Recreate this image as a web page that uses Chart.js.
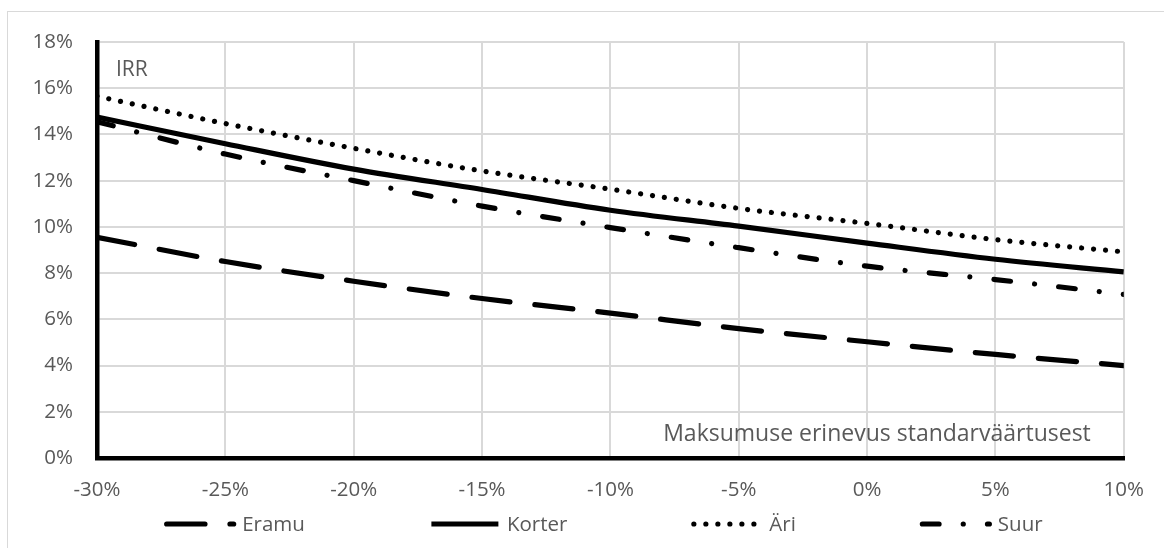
<!DOCTYPE html>
<html>
<head>
<meta charset="utf-8">
<script src="https://cdn.jsdelivr.net/npm/chart.js@4/dist/chart.umd.min.js"></script>
<style>
html,body{margin:0;padding:0;background:#fff;}
#wrap{width:1164px;height:548px;position:relative;}
</style>
</head>
<body>
<div id="wrap"><canvas id="c" width="1164" height="548"></canvas></div>
<script>
// ---- data ----
const xValues = [-30, -25, -20, -15, -10, -5, 0, 5, 10];
const eramu  = [9.55, 8.5, 7.65, 6.9, 6.27, 5.6, 5.03, 4.48, 4.0];
const korter = [14.75, 13.6, 12.5, 11.62, 10.72, 10.03, 9.3, 8.6, 8.05];
const ari    = [15.65, 14.47, 13.4, 12.42, 11.63, 10.8, 10.15, 9.45, 8.92];
const suur   = [14.55, 13.15, 12.0, 10.9, 9.97, 9.1, 8.3, 7.72, 7.08];
const seriesNames = ['Eramu', 'Korter', 'Äri', 'Suur'];
const xTickLabels = ['-30%', '-25%', '-20%', '-15%', '-10%', '-5%', '0%', '5%', '10%'];
const yTickLabels = ['0%', '2%', '4%', '6%', '8%', '10%', '12%', '14%', '16%', '18%'];
const yAxisTitle = 'IRR';
const xAxisTitle = 'Maksumuse erinevus standarväärtusest';

const FONT = "'Open Sans', sans-serif";
const GREY = '#595959';

function pts(arr) { return xValues.map((x, i) => ({x: x, y: arr[i]})); }

const styles = [
  {borderDash: [38.3, 25], borderCapStyle: 'round'},
  {borderDash: [], borderCapStyle: 'butt'},
  {borderDash: [0.01, 12], borderCapStyle: 'round'},
  {borderDash: [16.7, 24.2, 0.01, 24.2], borderCapStyle: 'round'}
];
const seriesData = [eramu, korter, ari, suur];

const datasets = seriesNames.map((name, i) => Object.assign({
  label: name,
  data: pts(seriesData[i]),
  borderColor: '#000',
  backgroundColor: '#000',
  borderWidth: 5.2,
  pointRadius: 0,
  fill: false,
  cubicInterpolationMode: 'monotone',
  borderJoinStyle: 'round'
}, styles[i]));

const decor = {
  id: 'decor',
  beforeDraw(chart) {
    const ctx = chart.ctx;
    ctx.save();
    ctx.strokeStyle = '#d9d9d9';
    ctx.lineWidth = 1;
    ctx.strokeRect(7.5, 11.5, 1300, 700);
    ctx.restore();
  },
  afterDraw(chart) {
    const ctx = chart.ctx;
    const a = chart.chartArea;
    ctx.save();
    ctx.fillStyle = GREY;
    ctx.font = '21px ' + FONT;
    ctx.textBaseline = 'middle';
    ctx.textAlign = 'left';
    ctx.fillText(yAxisTitle, a.left + 19, 70);
    ctx.font = '23px ' + FONT;
    ctx.textAlign = 'right';
    ctx.textBaseline = 'alphabetic';
    ctx.fillText(xAxisTitle, a.right - 33, 441);

    // legend
    ctx.font = '20.5px ' + FONT;
    const sampleW = 72, gap = 6, itemGap = 124;
    const widths = chart.data.datasets.map(d => sampleW + gap + ctx.measureText(d.label).width);
    const total = widths.reduce((s, w) => s + w, 0) + itemGap * (widths.length - 1);
    let x = (a.left + a.right) / 2 - 7 - total / 2;
    const ly = 524;
    chart.data.datasets.forEach((d, i) => {
      ctx.save();
      ctx.strokeStyle = d.borderColor;
      ctx.lineWidth = d.borderWidth;
      ctx.lineCap = d.borderCapStyle;
      ctx.setLineDash(d.borderDash || []);
      ctx.beginPath();
      ctx.moveTo(x + 2.5, ly);
      ctx.lineTo(x + sampleW - 2.5, ly);
      ctx.stroke();
      ctx.restore();
      ctx.fillStyle = GREY;
      ctx.textAlign = 'left';
      ctx.textBaseline = 'middle';
      ctx.fillText(d.label, x + sampleW + gap, ly + 1);
      x += widths[i] + itemGap;
    });
    ctx.restore();
  }
};

new Chart(document.getElementById('c'), {
  type: 'line',
  data: {datasets: datasets},
  options: {
    responsive: false,
    animation: false,
    devicePixelRatio: 1,
    layout: {padding: {left: 0, right: 38, top: 42, bottom: 0}},
    plugins: {legend: {display: false}, tooltip: {enabled: false}},
    scales: {
      x: {
        type: 'linear', min: -30, max: 10,
        afterFit(s) { s.height = 90; },
        grid: {color: '#d9d9d9', lineWidth: 2, drawTicks: false},
        border: {color: '#000', width: 4.5},
        ticks: {
          stepSize: 5, padding: 20, color: GREY, font: {family: FONT, size: 20.5},
          maxRotation: 0,
          callback: (v, i) => xTickLabels[i]
        }
      },
      y: {
        min: 0, max: 18,
        afterFit(s) { s.width = 97; },
        grid: {color: '#d9d9d9', lineWidth: 2, drawTicks: false},
        border: {color: '#000', width: 4.5},
        ticks: {
          stepSize: 2, padding: 24, color: GREY, font: {family: FONT, size: 20.5},
          callback: (v, i) => yTickLabels[i]
        }
      }
    }
  },
  plugins: [decor]
});
</script>
</body>
</html>
